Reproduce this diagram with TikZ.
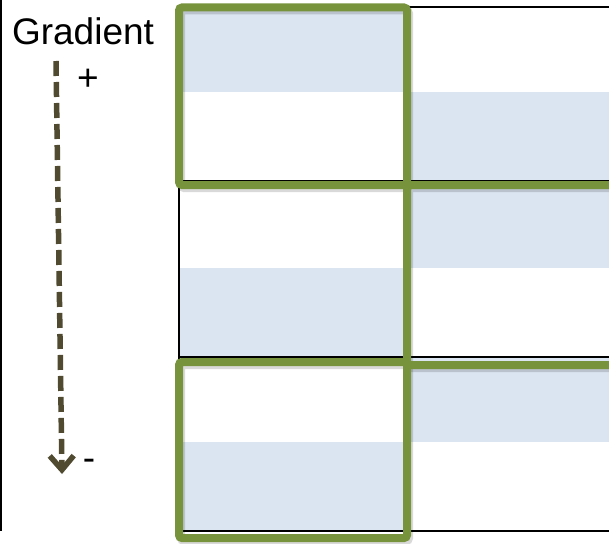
\documentclass[tikz,border=0pt]{standalone}
\usepackage{fontspec}
\setmainfont{Liberation Sans}
\usetikzlibrary{arrows.meta}
\definecolor{olivegreen}{HTML}{77933C}
\definecolor{paleblue}{HTML}{DBE5F1}
\definecolor{darkolive}{HTML}{4F4A30}
\begin{document}
\begin{tikzpicture}[x=1pt,y=-1pt,
	frame/.style={olivegreen, line width=8pt, rounded corners=3pt},
	frameshadow/.style={black, opacity=0.15, line width=8pt, rounded corners=3pt},
	gridline/.style={black, line width=1.8pt},
	label/.style={font=\fontsize{37}{44}\selectfont, inner sep=0pt},
	gradarrow/.style={darkolive, line width=5.5pt, dash pattern=on 15pt off 6pt,
		-{Straight Barb[length=14pt,width=24pt]}}]
	\useasboundingbox (0,0) rectangle (609,543);
	\clip (0,0) rectangle (609,543);
	% Shading
	\fill [paleblue] (179,7) rectangle (407,92);
	\fill [paleblue] (407,92) rectangle (640,181);
	\fill [paleblue] (407,181) rectangle (640,268);
	\fill [paleblue] (179,268) rectangle (407,357);
	\fill [paleblue] (407,357) rectangle (640,442);
	\fill [paleblue] (179,442) rectangle (407,531);
	% Table
	\draw [gridline] (179,7) rectangle (640,531);
	\draw [gridline] (179,181) -- (640,181);
	\draw [gridline] (179,357) -- (640,357);
	\draw [gridline] (407,7) -- (407,531);
	\draw [black, line width=1.5pt] (1,0) -- (1,531);
	% Frames
	\draw [frameshadow] (181,10.5) rectangle (409,188);
	\draw [frameshadow] (409,188) rectangle (640,368);
	\draw [frameshadow] (181,365) rectangle (409,541);
	\draw [frame] (179,7.5) rectangle (407,185);
	\draw [frame] (407,185) rectangle (640,365);
	\draw [frame] (179,362) rectangle (407,538);
	% Gradient
	\node [label] (title) at (83,31) {Gradient};
	\coordinate (gtop) at (56,61);
	\coordinate (gbottom) at (62,474);
	\draw [gradarrow] (gtop) -- (gbottom);
	\node [label] (plus) at (88,80) {+};
	\node [label] (minus) at (89,465) {-};
\end{tikzpicture}
\end{document}
